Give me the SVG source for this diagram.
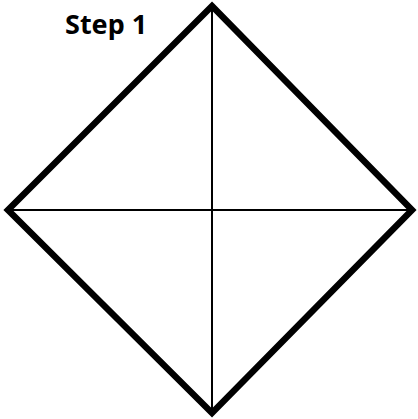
<svg xmlns="http://www.w3.org/2000/svg" width="418" height="419" viewBox="0 0 418 419">
<style>
.outline{fill:none;stroke:#000;stroke-width:6.5;stroke-linejoin:miter;stroke-miterlimit:10}
.fold{stroke:#000;stroke-width:2}
.label{font-family:"Noto Sans","Open Sans",sans-serif;font-weight:bold;font-size:27px;fill:#000}
</style>
<rect width="418" height="419" fill="#fff"/>
<g id="connectors">
<line class="fold" x1="212" y1="6" x2="212" y2="413"/>
<line class="fold" x1="8" y1="210" x2="412" y2="210"/>
</g>
<g id="square">
<polygon class="outline" points="212,6 412,210 212,413 8,210"/>
</g>
<g id="title">
<text class="label" x="65" y="34">Step 1</text>
</g>
</svg>
